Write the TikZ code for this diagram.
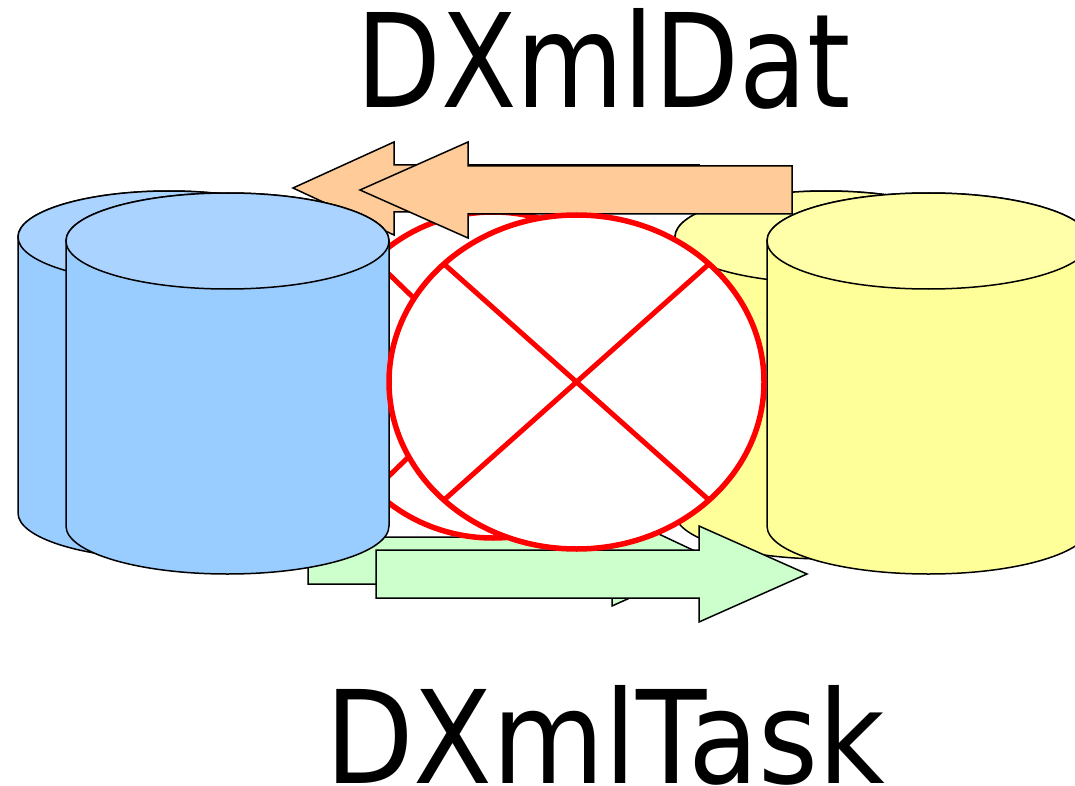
\documentclass[tikz,border=0pt]{standalone}
\usepackage{fontspec}
\setmainfont{DejaVu Sans}
\definecolor{bluetop}{HTML}{AAD4FF}
\definecolor{blueside}{HTML}{99CCFF}
\definecolor{yellowtop}{HTML}{FFFFAA}
\definecolor{yellowside}{HTML}{FFFF99}
\definecolor{orangefill}{HTML}{FFCC99}
\definecolor{greenfill}{HTML}{CCFFCC}
\tikzset{
  outline/.style={draw=black,line width=1.5pt,line join=miter},
  redring/.style={draw=red,line width=5.5pt,fill=white},
  redcross/.style={draw=red,line width=5pt},
  title/.style={inner sep=0pt,anchor=base west,text=black}
}
% cx, rim y, base y, rx, ry, side colour, top colour
\newcommand{\drum}[7]{%
  \draw[outline,fill=#6] (#1-#4,#2) -- (#1-#4,#3)
    arc[start angle=180,end angle=0,x radius=#4,y radius=#5]
    -- (#1+#4,#2)
    arc[start angle=0,end angle=-180,x radius=#4,y radius=#5] -- cycle;
  \draw[outline,fill=#7] (#1,#2) ellipse[x radius=#4,y radius=#5];
}
% cx, cy, rx, ry
\newcommand{\noway}[4]{%
  \fill[white] (#1,#2) ellipse[x radius=#3,y radius=#4];
  \begin{scope}
    \clip (#1,#2) ellipse[x radius=#3,y radius=#4];
    \draw[redcross] (#1-0.7071*#3,#2-0.7071*#4) -- (#1+0.7071*#3,#2+0.7071*#4);
    \draw[redcross] (#1+0.7071*#3,#2-0.7071*#4) -- (#1-0.7071*#3,#2+0.7071*#4);
  \end{scope}
  \draw[redring,fill=none] (#1,#2) ellipse[x radius=#3,y radius=#4];
}
\begin{document}
\begin{tikzpicture}[x=1pt,y=-1pt]
\useasboundingbox (0,0) rectangle (1075,786);
\clip (0,0) rectangle (1075,786);
% rear layer
\draw[outline,fill=greenfill] (308,537) -- (612,537) -- (612,512) -- (714,560) -- (612,606) -- (612,584) -- (308,584) -- cycle;
\draw[outline,fill=orangefill] (699,165) -- (394,165) -- (394,142) -- (293,188) -- (394,235) -- (394,212) -- (699,212) -- cycle;
\drum{169}{237}{513}{151}{46}{blueside}{bluetop}
\drum{826}{237}{513}{151}{46}{yellowside}{yellowtop}
\noway{493}{375}{168}{163}
% front layer
\draw[outline,fill=greenfill] (376,550) -- (699,550) -- (699,526) -- (807,574) -- (699,622) -- (699,598) -- (376,598) -- cycle;
\draw[outline,fill=orangefill] (792,166) -- (468,166) -- (468,142) -- (360,190) -- (468,238) -- (468,214) -- (792,214) -- cycle;
\drum{227.5}{241}{526}{161.5}{48}{blueside}{bluetop}
\drum{928.5}{241}{526}{161.5}{48}{yellowside}{yellowtop}
\noway{576.5}{382}{187.5}{167}
% captions
\node[title] (dat) at (356,108) {\resizebox{494pt}{99pt}{DXmlDat}};
\node[title] (task) at (325,783) {\resizebox{560pt}{98pt}{DXmlTask}};
\end{tikzpicture}
\end{document}
